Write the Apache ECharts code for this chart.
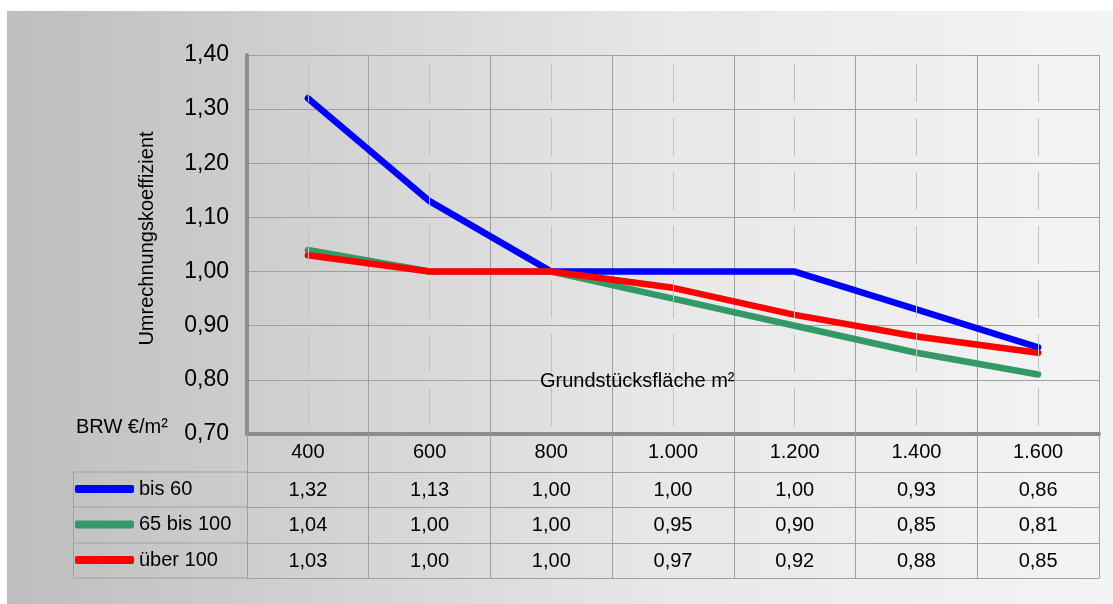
<!DOCTYPE html>
<html>
<head>
<meta charset="utf-8">
<script src="https://cdn.jsdelivr.net/npm/echarts@6/dist/echarts.min.js"></script>
<style>
  html, body { margin: 0; padding: 0; background: #fff; }
  #main { width: 1113px; height: 604px; }
</style>
</head>
<body>
<div id="main"></div>
<script>
// Daten
var categories = ['400', '600', '800', '1.000', '1.200', '1.400', '1.600'];
var seriesNames = ['bis 60', '65 bis 100', 'über 100'];
var bis60 = [1.32, 1.13, 1.00, 1.00, 1.00, 0.93, 0.86];
var bis100 = [1.04, 1.00, 1.00, 0.95, 0.90, 0.85, 0.81];
var ueber100 = [1.03, 1.00, 1.00, 0.97, 0.92, 0.88, 0.85];
var yMin = 0.7, yMax = 1.4, yStep = 0.1;

var FONT = 'Liberation Sans, Arial, sans-serif';
var colors = ['#0000ff', '#339966', '#ff0000'];
var rows = [bis60, bis100, ueber100];

function fmt(v) {
    return v.toFixed(2).replace('.', ',');
}

var chart = echarts.init(document.getElementById('main'));

// Tabellenzeilen als zusaetzliche x-Achsen
var rowOffsets = [38, 73, 109];
var rowHeights = [35, 36, 35];
var tableAxes = rows.map(function (r, i) {
    return {
        type: 'category',
        position: 'bottom',
        offset: rowOffsets[i],
        data: r.map(fmt),
        axisLine: { show: true, onZero: false, lineStyle: { color: '#a0a0a0', width: 1 } },
        axisTick: { show: true, interval: 0, length: rowHeights[i], lineStyle: { color: '#a0a0a0' } },
        axisLabel: { interval: 0, margin: 8, fontSize: 20, color: '#000', fontFamily: FONT },
        splitLine: { show: false }
    };
});
// untere Tabellenlinie
tableAxes.push({
    type: 'category',
    position: 'bottom',
    offset: 144,
    data: categories,
    axisLine: { show: true, onZero: false, lineStyle: { color: '#a0a0a0', width: 1 } },
    axisTick: { show: false },
    axisLabel: { show: false },
    splitLine: { show: false }
});

var option = {
    backgroundColor: '#ffffff',
    animation: false,
    title: [
        {
            text: 'Grundstücksfläche m²',
            left: 540, top: 371, padding: 0,
            textStyle: { fontSize: 20, fontWeight: 'normal', color: '#000', fontFamily: FONT }
        },
        {
            text: 'BRW €/m²',
            left: 76, top: 417, padding: 0,
            textStyle: { fontSize: 20, fontWeight: 'normal', color: '#000', fontFamily: FONT }
        }
    ],
    legend: {
        data: seriesNames,
        orient: 'vertical',
        left: 75, top: 479,
        padding: 0,
        itemWidth: 59, itemHeight: 8,
        itemGap: 15.5,
        icon: 'roundRect',
        textStyle: { fontSize: 20, color: '#000', fontFamily: FONT, lineHeight: 20 }
    },
    grid: { left: 247, top: 55, right: 14, bottom: 170 },
    xAxis: [{
        type: 'category',
        data: categories,
        boundaryGap: true,
        axisLine: { show: true, onZero: false, lineStyle: { color: '#8c8c8c', width: 4 } },
        axisTick: { show: true, interval: 0, length: 38, lineStyle: { color: '#a0a0a0' } },
        axisLabel: { interval: 0, margin: 8, fontSize: 20, color: '#000', fontFamily: FONT },
        splitLine: { show: true, interval: 0, lineStyle: { color: '#a0a0a0', width: 1 } }
    }].concat(tableAxes),
    yAxis: {
        type: 'value',
        min: yMin, max: yMax, interval: yStep,
        name: 'Umrechnungskoeffizient',
        nameLocation: 'middle',
        nameGap: 90,
        nameTextStyle: { fontSize: 20, color: '#000', fontFamily: FONT, padding: [0, 0, 0, 12] },
        axisLine: { show: true, lineStyle: { color: '#8c8c8c', width: 4 } },
        axisTick: { show: false },
        axisLabel: { fontSize: 23, color: '#000', fontFamily: FONT, margin: 18, formatter: fmt },
        splitLine: { show: true, lineStyle: { color: '#a0a0a0', width: 1 } }
    },
    graphic: [
        {
            type: 'rect', z: -10, silent: true,
            shape: { x: 7, y: 11, width: 1106, height: 593 },
            style: {
                fill: new echarts.graphic.LinearGradient(0, 0, 1, 0, [
                    { offset: 0, color: '#bebebe' },
                    { offset: 0.6, color: '#e8e8e8' },
                    { offset: 1, color: '#f4f4f4' }
                ])
            }
        },
        // linker Teil der Tabelle
        { type: 'line', silent: true, shape: { x1: 73, y1: 472, x2: 247, y2: 472 }, style: { stroke: '#a0a0a0', lineWidth: 1 } },
        { type: 'line', silent: true, shape: { x1: 73, y1: 507, x2: 247, y2: 507 }, style: { stroke: '#a0a0a0', lineWidth: 1 } },
        { type: 'line', silent: true, shape: { x1: 73, y1: 543, x2: 247, y2: 543 }, style: { stroke: '#a0a0a0', lineWidth: 1 } },
        { type: 'line', silent: true, shape: { x1: 73, y1: 578, x2: 247, y2: 578 }, style: { stroke: '#a0a0a0', lineWidth: 1 } },
        { type: 'line', silent: true, shape: { x1: 73.5, y1: 472, x2: 73.5, y2: 578 }, style: { stroke: '#a0a0a0', lineWidth: 1 } }
    ],
    series: [
        {
            // helle Mittellinien
            name: 'hilfslinien',
            type: 'line',
            data: [],
            z: 1,
            markLine: {
                silent: true,
                symbol: 'none',
                label: { show: false },
                lineStyle: { color: '#c0c0c0', width: 1, type: [38, 16], dashOffset: 46 },
                data: categories.map(function (c) { return { xAxis: c }; })
            }
        },
        {
            name: seriesNames[0], type: 'line', data: bis60, symbol: 'none', z: 3,
            itemStyle: { color: colors[0] },
            lineStyle: { color: colors[0], width: 6.5, cap: 'round', join: 'round' }
        },
        {
            name: seriesNames[1], type: 'line', data: bis100, symbol: 'none', z: 3,
            itemStyle: { color: colors[1] },
            lineStyle: { color: colors[1], width: 6.5, cap: 'round', join: 'round' }
        },
        {
            name: seriesNames[2], type: 'line', data: ueber100, symbol: 'none', z: 3,
            itemStyle: { color: colors[2] },
            lineStyle: { color: colors[2], width: 6.5, cap: 'round', join: 'round' }
        }
    ]
};
chart.setOption(option);
</script>
</body>
</html>
